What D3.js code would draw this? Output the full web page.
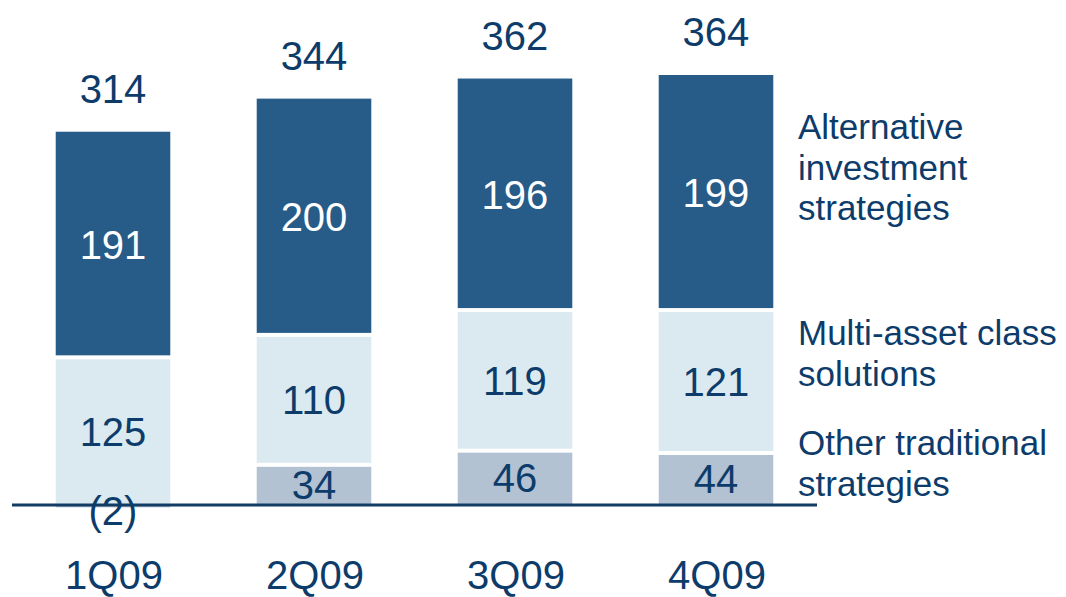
<!DOCTYPE html>
<html>
<head>
<meta charset="utf-8">
<script src="https://cdn.jsdelivr.net/npm/d3@7"></script>
<style>
  body { margin: 0; background: #fff; }
  svg { display: block; font-family: "Liberation Sans", Arial, Helvetica, sans-serif; }
</style>
</head>
<body>
<div class="chart"></div>
<script>
var svgWidth = 1066;
var svgHeight = 597;

// data
var quarters = ["1Q09", "2Q09", "3Q09", "4Q09"];
var otherTraditional = [-2, 34, 46, 44];
var multiAsset = [125, 110, 119, 121];
var alternative = [191, 200, 196, 199];
var totals = [314, 344, 362, 364];
var seriesKeys = ["other", "multi", "alt"];
var legendLabels = [
  ["Other traditional", "strategies"],
  ["Multi-asset class", "solutions"],
  ["Alternative", "investment", "strategies"]
];

var colors = { other: "#b2c2d2", multi: "#dbeaf0", alt: "#275b88" };
var textColor = "#0d3c6b";

var rows = quarters.map(function(q, i) {
  return { q: q, other: otherTraditional[i], multi: multiAsset[i], alt: alternative[i], total: totals[i] };
});

var svg = d3.select(".chart")
  .append("svg")
  .attr("width", svgWidth)
  .attr("height", svgHeight);

var x = d3.scaleBand()
  .domain(quarters)
  .range([12, 817])
  .paddingInner(0.43)
  .paddingOuter(0.2175);

var y = d3.scaleLinear()
  .domain([0, 364])
  .range([505, 75]);

var stacked = d3.stack()
  .keys(seriesKeys)
  .offset(d3.stackOffsetDiverging)(rows);

var gap = 2;
var barLayer = svg.append("g");
var lineLayer = svg.append("g");
var labelLayer = svg.append("g");

// bars
stacked.forEach(function(layer, li) {
  barLayer.append("g")
    .attr("fill", colors[layer.key])
    .selectAll("rect")
    .data(layer)
    .enter().append("rect")
    .attr("x", d => x(d.data.q))
    .attr("width", x.bandwidth())
    .attr("y", function(d) {
      var top = y(Math.max(d[0], d[1]));
      // white separator under the segment above
      return (li < seriesKeys.length - 1 && d[1] > 0) ? top + gap : top;
    })
    .attr("height", function(d) {
      var top = y(Math.max(d[0], d[1]));
      var bot = y(Math.min(d[0], d[1]));
      if (li < seriesKeys.length - 1 && d[1] > 0) top += gap;
      if (d[0] > 0) bot -= gap;
      return Math.max(0, bot - top);
    });

  // segment value labels
  labelLayer.append("g")
    .selectAll("text")
    .data(layer)
    .enter().append("text")
    .attr("x", d => x(d.data.q) + x.bandwidth() / 2)
    .attr("y", function(d) {
      var v = d.data[layer.key];
      if (v < 0) return y(0) + 6;
      return (y(d[0]) + y(d[1])) / 2;
    })
    .attr("dy", "0.36em")
    .attr("text-anchor", "middle")
    .attr("font-size", 40)
    .attr("fill", layer.key === "alt" ? "#fff" : textColor)
    .text(function(d) {
      var v = d.data[layer.key];
      return v < 0 ? "(" + (-v) + ")" : v;
    });
});

// totals
labelLayer.append("g")
  .selectAll("text")
  .data(rows)
  .enter().append("text")
  .attr("x", d => x(d.q) + x.bandwidth() / 2)
  .attr("y", d => y(d.multi + d.alt + Math.max(0, d.other)) - 29)
  .attr("text-anchor", "middle")
  .attr("font-size", 40)
  .attr("fill", textColor)
  .text(d => d.total);

// baseline
lineLayer.append("line")
  .attr("x1", x.range()[0])
  .attr("x2", x.range()[1])
  .attr("y1", y(0))
  .attr("y2", y(0))
  .attr("stroke", "#123c64")
  .attr("stroke-width", 3);

// category labels
labelLayer.append("g")
  .selectAll("text")
  .data(quarters)
  .enter().append("text")
  .attr("x", d => x(d) + x.bandwidth() / 2 + 1)
  .attr("y", 589)
  .attr("text-anchor", "middle")
  .attr("font-size", 40)
  .attr("fill", textColor)
  .text(d => d);

// legend labels
var legendBaselines = [455, 345, 139];
legendLabels.forEach(function(lines, i) {
  var t = labelLayer.append("text")
    .attr("x", 798)
    .attr("y", legendBaselines[i])
    .attr("font-size", 35)
    .attr("fill", textColor);
  lines.forEach(function(line, j) {
    t.append("tspan")
      .attr("x", 798)
      .attr("y", legendBaselines[i] + j * 40.5)
      .text(line);
  });
});
</script>
</body>
</html>
